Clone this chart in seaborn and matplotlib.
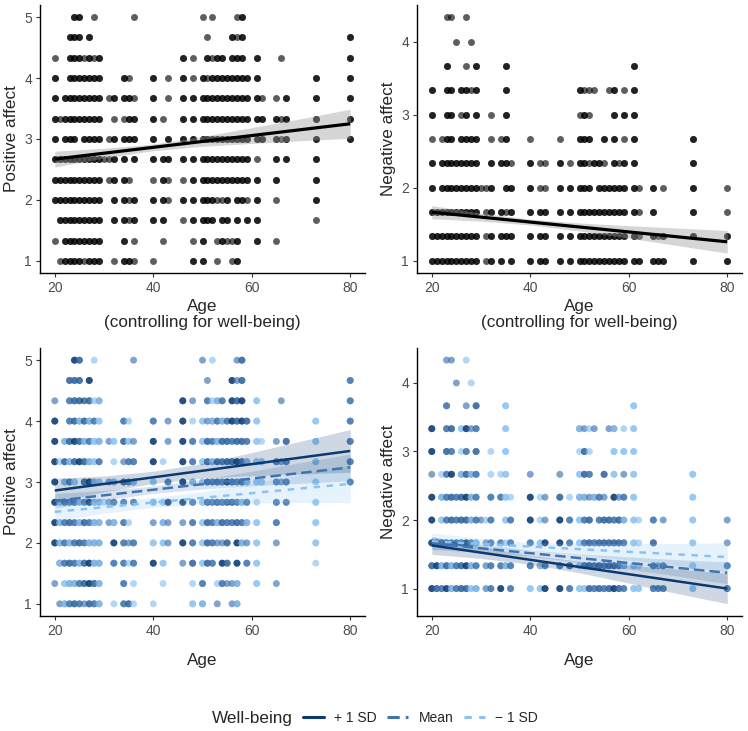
import matplotlib
matplotlib.use("Agg")
import numpy as np
import pandas as pd
import matplotlib.pyplot as plt
import seaborn as sns
from matplotlib.lines import Line2D

sns.set_theme(style="ticks")
plt.rcParams['font.family'] = ['Liberation Sans', 'DejaVu Sans']

# ---------------- data: (age, well-being codes of observations at that spot) ----------------
# h = +1 SD, m = mean, l = -1 SD well-being
pos_levels = [5.0, 4.667, 4.333, 4.0, 3.667, 3.333, 3.0, 2.667, 2.333, 2.0, 1.667, 1.333, 1.0]
pos_500 = [(24,"hh"),(25,"hm"),(28,"l"),(36,"m"),(50,"m"),(52,"l"),(57,"m"),(58,"hm")]
pos_467 = [(23,"hm"),(24,"hm"),(25,"hm"),(27,"hh"),(51,"m"),(56,"hh"),(57,"m"),(58,"hm"),(80,"mm")]
pos_433 = [(20,"m"),(23,"mm"),(24,"hm"),(25,"hm"),(26,"h"),(27,"hm"),(28,"l"),(29,"ml"),(46,"hh"),(48,"m"),
           (51,"mm"),(52,"l"),(53,"ml"),(54,"mm"),(56,"hh"),(57,"hm"),(58,"hh"),(61,"ll"),(66,"m"),(80,"mm")]
pos_400 = [(20,"hh"),(23,"mm"),(24,"hm"),(25,"ml"),(26,"hm"),(27,"ml"),(28,"mm"),(29,"ll"),(34,"mm"),(35,"l"),
           (40,"mm"),(43,"m"),(46,"hh"),(48,"l"),(50,"ll"),(51,"m"),(52,"ml"),(53,"mm"),(54,"ml"),(55,"mm"),
           (56,"hh"),(57,"hm"),(58,"hh"),(59,"hm"),(61,"ll"),(73,"ll"),(80,"mm")]
pos_367 = [(20,"hh"),(22,"ml"),(23,"hm"),(24,"hh"),(25,"hm"),(26,"ml"),(27,"mm"),(28,"ll"),(29,"ml"),(31,"m"),
           (32,"ll"),(34,"hm"),(35,"ll"),(36,"m"),(40,"hh"),(43,"m"),(46,"hh"),(48,"mm"),(50,"ll"),(51,"hm"),
           (52,"mm"),(53,"ml"),(54,"hm"),(55,"hm"),(56,"mm"),(57,"hm"),(58,"hm"),(59,"mm"),(61,"ll"),(62,"l"),
           (65,"m"),(67,"hm"),(73,"ll"),(80,"mm")]
pos_333 = [(20,"hh"),(21,"l"),(22,"hm"),(23,"ml"),(24,"hm"),(25,"hh"),(26,"hm"),(27,"ml"),(28,"ll"),(29,"mm"),
           (32,"l"),(34,"m"),(35,"mm"),(36,"mm"),(40,"hh"),(42,"l"),(46,"hh"),(48,"mm"),(50,"ll"),(51,"hm"),
           (52,"ml"),(53,"hm"),(54,"mm"),(55,"hm"),(56,"hm"),(57,"hh"),(58,"hm"),(59,"ml"),(61,"ll"),(62,"ll"),
           (65,"mm"),(66,"m"),(67,"mm"),(73,"ll"),(80,"mm")]
pos_300 = [(20,"hh"),(22,"ml"),(23,"mm"),(24,"ll"),(26,"hm"),(27,"hh"),(28,"ml"),(29,"ll"),(31,"m"),(32,"ml"),
           (34,"hm"),(35,"mm"),(36,"ml"),(40,"ll"),(43,"mm"),(46,"hh"),(48,"ml"),(50,"ll"),(51,"hm"),(52,"mm"),
           (53,"hm"),(54,"mm"),(55,"hh"),(56,"hm"),(57,"mm"),(58,"hm"),(59,"ml"),(61,"ll"),(62,"ll"),(65,"mm"),
           (66,"m"),(67,"hm"),(73,"ll"),(80,"mm")]
pos_267 = [(20,"hh"),(21,"ml"),(22,"hm"),(23,"mm"),(24,"hm"),(25,"ml"),(26,"mm"),(27,"hh"),(28,"ml"),(29,"ml"),
           (30,"l"),(31,"m"),(32,"mm"),(34,"mm"),(36,"mm"),(40,"ml"),(42,"ll"),(43,"hh"),(46,"hh"),(48,"mm"),
           (50,"ll"),(51,"hm"),(52,"mm"),(53,"hm"),(54,"mm"),(55,"hm"),(56,"hm"),(57,"mm"),(58,"ml"),(59,"mm"),
           (61,"l"),(65,"mm"),(67,"mm"),(73,"ll")]
pos_233 = [(20,"hh"),(21,"ml"),(22,"mm"),(23,"hm"),(24,"mm"),(25,"ml"),(26,"hm"),(27,"mm"),(28,"ml"),(29,"ml"),
           (31,"m"),(32,"ml"),(34,"mm"),(35,"l"),(40,"m"),(42,"ml"),(43,"m"),(46,"m"),(48,"mm"),(50,"ll"),
           (51,"hm"),(52,"mm"),(53,"ml"),(54,"hm"),(55,"mm"),(56,"mm"),(57,"hm"),(58,"mm"),(59,"ml"),(61,"ll"),
           (65,"mm"),(73,"ll")]
pos_200 = [(20,"hh"),(21,"ml"),(22,"mm"),(23,"ml"),(24,"mm"),(25,"hm"),(26,"mm"),(27,"ml"),(28,"ml"),(29,"ml"),
           (32,"hh"),(34,"mm"),(35,"m"),(36,"mm"),(40,"ll"),(42,"ll"),(43,"m"),(46,"hh"),(48,"mm"),(50,"ll"),
           (51,"hm"),(52,"mm"),(53,"m"),(54,"m"),(55,"hm"),(57,"hh"),(58,"ml"),(59,"m"),(61,"ll"),(65,"m"),(73,"ll")]
pos_167 = [(21,"ml"),(22,"mm"),(23,"hm"),(24,"mm"),(25,"ml"),(26,"hm"),(27,"hh"),(28,"ml"),(29,"ml"),(32,"mm"),
           (34,"mm"),(35,"l"),(36,"mm"),(40,"hh"),(42,"ll"),(46,"m"),(48,"hm"),(50,"ll"),(51,"hm"),(52,"mm"),
           (54,"hh"),(55,"hm"),(57,"hh"),(59,"mm"),(61,"ll"),(73,"l")]
pos_133 = [(20,"m"),(22,"ll"),(23,"ml"),(24,"ml"),(25,"mm"),(26,"hm"),(27,"hh"),(28,"hm"),(29,"ml"),(34,"mm"),
           (36,"l"),(42,"l"),(48,"l"),(50,"mm"),(53,"l"),(54,"mm"),(55,"m"),(56,"m"),(57,"ml"),(61,"ll"),(65,"m")]
pos_100 = [(21,"m"),(22,"ml"),(23,"mm"),(24,"hm"),(25,"mm"),(26,"m"),(27,"hm"),(28,"mm"),(29,"ml"),(32,"l"),
           (34,"mm"),(35,"hm"),(36,"l"),(40,"l"),(48,"ll"),(50,"ml"),(53,"m"),(56,"m"),(57,"ml")]

neg_levels = [4.333, 4.0, 3.667, 3.333, 3.0, 2.667, 2.333, 2.0, 1.667, 1.333, 1.0]
neg_433 = [(23,"m"),(24,"m"),(27,"l")]
neg_400 = [(25,"m"),(28,"l")]
neg_367 = [(23,"mm"),(27,"m"),(29,"hm"),(35,"ll"),(61,"ll")]
neg_333 = [(20,"hh"),(23,"mm"),(24,"hm"),(26,"ll"),(27,"hh"),(28,"m"),(29,"mm"),(35,"ll"),(50,"ml"),(51,"m"),
           (52,"l"),(53,"m"),(56,"m"),(57,"ml"),(59,"l"),(61,"ll")]
neg_300 = [(20,"hh"),(23,"hm"),(24,"mm"),(26,"l"),(27,"mm"),(29,"hm"),(32,"l"),(35,"ll"),(50,"l"),(51,"hm"),
           (52,"l"),(57,"ll"),(59,"ll"),(61,"ll")]
neg_267 = [(20,"m"),(22,"l"),(23,"mm"),(24,"hh"),(26,"ml"),(27,"hm"),(28,"ml"),(29,"mm"),(32,"l"),(34,"l"),
           (35,"ll"),(40,"m"),(46,"m"),(50,"ll"),(51,"hm"),(52,"mm"),(55,"hm"),(57,"ll"),(59,"m"),(61,"ll"),(73,"ll")]
neg_233 = [(20,"hh"),(22,"ml"),(23,"mm"),(24,"hm"),(25,"mm"),(26,"hm"),(27,"hh"),(28,"ml"),(29,"mm"),(32,"mm"),
           (34,"mm"),(35,"ll"),(36,"l"),(40,"hh"),(42,"l"),(43,"m"),(46,"hm"),(48,"l"),(50,"ml"),(51,"ml"),
           (52,"m"),(53,"ml"),(54,"mm"),(55,"m"),(57,"hh"),(58,"m"),(59,"mm"),(61,"ll"),(73,"ll")]
neg_200 = [(20,"hh"),(22,"ll"),(23,"mm"),(24,"hm"),(25,"mm"),(26,"hm"),(27,"hm"),(28,"ml"),(29,"mm"),(30,"m"),
           (31,"l"),(32,"mm"),(35,"ll"),(36,"mm"),(40,"hh"),(42,"l"),(43,"m"),(46,"hh"),(48,"mm"),(50,"ll"),
           (51,"mm"),(52,"hm"),(54,"mm"),(55,"hm"),(56,"hm"),(57,"mm"),(58,"hm"),(59,"ml"),(61,"ll"),(62,"l"),
           (65,"mm"),(67,"m"),(73,"ll"),(80,"m")]
neg_167 = [(20,"hh"),(21,"hm"),(22,"mm"),(23,"hm"),(24,"mm"),(25,"hm"),(26,"hm"),(27,"hh"),(28,"mm"),(29,"ml"),
           (31,"m"),(32,"mm"),(34,"mm"),(35,"l"),(36,"mm"),(40,"mm"),(42,"ll"),(43,"hh"),(46,"hh"),(48,"mm"),
           (50,"ll"),(51,"mm"),(52,"hm"),(53,"mm"),(54,"hm"),(55,"hm"),(56,"hm"),(57,"hm"),(58,"hm"),(59,"mm"),
           (61,"ll"),(62,"l"),(65,"hm"),(73,"ll"),(80,"m")]
neg_133 = [(20,"hm"),(21,"hh"),(22,"ml"),(23,"hm"),(24,"ml"),(25,"mm"),(26,"hm"),(27,"hh"),(28,"ml"),(29,"mm"),
           (31,"m"),(32,"mm"),(34,"mm"),(35,"ml"),(36,"mm"),(40,"mm"),(42,"ml"),(43,"mm"),(46,"mm"),(48,"hm"),
           (50,"ll"),(51,"mm"),(52,"hm"),(53,"mm"),(54,"hm"),(55,"mm"),(56,"hm"),(57,"hm"),(58,"mm"),(59,"ml"),
           (61,"ll"),(62,"l"),(65,"mm"),(66,"m"),(67,"mm"),(73,"ll"),(80,"mm")]
neg_100 = [(20,"hh"),(21,"hm"),(22,"mm"),(23,"hh"),(24,"ml"),(25,"mm"),(26,"hm"),(27,"hm"),(28,"ll"),(29,"ml"),
           (31,"m"),(32,"mm"),(34,"hh"),(36,"mm"),(40,"ll"),(42,"ll"),(43,"hh"),(46,"hh"),(48,"mm"),(50,"ll"),
           (51,"ll"),(52,"hm"),(53,"mm"),(54,"hm"),(55,"mm"),(56,"hm"),(57,"hh"),(58,"hm"),(59,"mm"),(61,"ll"),
           (62,"ll"),(65,"mm"),(66,"mm"),(67,"mm"),(73,"ll"),(80,"mm")]

# ---------------- fitted lines (values at age 20 and 80) and CI half-widths ----------------
fit_ages = [20, 80]
band_ages = [20, 30, 40, 50, 60, 70, 80]
pos_all_fit = [2.67, 3.25]
pos_all_hw = [0.13, 0.08, 0.055, 0.08, 0.13, 0.18, 0.24]
neg_all_fit = [1.665, 1.26]
neg_all_hw = [0.09, 0.055, 0.04, 0.055, 0.085, 0.12, 0.155]
pos_hi_fit, pos_mean_fit, pos_lo_fit = [2.86, 3.51], [2.69, 3.24], [2.51, 2.97]
pos_hi_hw = [0.20, 0.13, 0.10, 0.12, 0.19, 0.27, 0.35]
pos_mean_hw = [0.12, 0.08, 0.06, 0.08, 0.12, 0.17, 0.22]
pos_lo_hw = [0.14, 0.10, 0.08, 0.10, 0.16, 0.23, 0.31]
neg_hi_fit, neg_mean_fit, neg_lo_fit = [1.63, 1.00], [1.66, 1.23], [1.69, 1.46]
neg_hi_hw = [0.13, 0.085, 0.065, 0.085, 0.13, 0.18, 0.22]
neg_mean_hw = [0.09, 0.06, 0.045, 0.06, 0.09, 0.12, 0.16]
neg_lo_hw = [0.12, 0.08, 0.06, 0.08, 0.12, 0.16, 0.21]

wb_labels = ["+ 1 SD", "Mean", "\u2212 1 SD"]
wb_colors = {"h": "#0A3A71", "m": "#3F74B0", "l": "#8AC3F2"}


def build(levels, rows):
    recs = []
    for lv, row in zip(levels, rows):
        for age, codes in row:
            for c in codes:
                recs.append((age, lv, c))
    return pd.DataFrame(recs, columns=["age", "affect", "wb"])


pos_df = build(pos_levels, [pos_500, pos_467, pos_433, pos_400, pos_367, pos_333, pos_300,
                            pos_267, pos_233, pos_200, pos_167, pos_133, pos_100])
neg_df = build(neg_levels, [neg_433, neg_400, neg_367, neg_333, neg_300, neg_267, neg_233,
                            neg_200, neg_167, neg_133, neg_100])

W, H = 748, 731
fig = plt.figure(figsize=(W / 100, H / 100), dpi=100)


def mk(l, t, r, b):
    return fig.add_axes([l / W, 1 - b / H, (r - l) / W, (b - t) / H])


ax_tl = mk(40, 5, 365, 273)
ax_tr = mk(417, 5, 742, 273)
ax_bl = mk(40, 348, 365, 616)
ax_br = mk(417, 348, 742, 616)

PT = 25


def band(ax, fit, hw, color, alpha):
    center = np.interp(band_ages, fit_ages, fit)
    hw = np.array(hw)
    ax.fill_between(band_ages, center - hw, center + hw, color=color, alpha=alpha, linewidth=0, zorder=3)


def line(ax, fit, color, lw, dashes=None):
    ln, = ax.plot(fit_ages, fit, color=color, lw=lw, zorder=4, solid_capstyle="butt", dash_capstyle="butt")
    if dashes is not None:
        ln.set_dashes(dashes)


# top panels
for ax, df, fit, hw in [(ax_tl, pos_df, pos_all_fit, pos_all_hw), (ax_tr, neg_df, neg_all_fit, neg_all_hw)]:
    sns.scatterplot(data=df, x="age", y="affect", color="black", alpha=0.63, s=PT, linewidth=0, ax=ax, zorder=2)
    band(ax, fit, hw, "#999999", 0.4)
    line(ax, fit, "black", 2.3)

# bottom panels
specs_pos = [(pos_lo_fit, pos_lo_hw, "l"), (pos_mean_fit, pos_mean_hw, "m"), (pos_hi_fit, pos_hi_hw, "h")]
specs_neg = [(neg_lo_fit, neg_lo_hw, "l"), (neg_mean_fit, neg_mean_hw, "m"), (neg_hi_fit, neg_hi_hw, "h")]
dash_map = {"h": None, "m": (4.2, 2.0), "l": (2.6, 2.6)}
for ax, df, specs in [(ax_bl, pos_df, specs_pos), (ax_br, neg_df, specs_neg)]:
    sns.scatterplot(data=df, x="age", y="affect", hue="wb", palette=wb_colors, alpha=0.66, s=PT,
                    linewidth=0, ax=ax, legend=False, zorder=2)
    for fit, hw, k in specs:
        band(ax, fit, hw, wb_colors[k], 0.2)
    for fit, hw, k in specs:
        line(ax, fit, wb_colors[k], 1.8, dash_map[k])

# axes styling
for ax in [ax_tl, ax_tr, ax_bl, ax_br]:
    ax.set_xlim(17, 83)
    ax.set_xticks([20, 40, 60, 80])
    for s in ["top", "right"]:
        ax.spines[s].set_visible(False)
    for s in ["left", "bottom"]:
        ax.spines[s].set_linewidth(1.0)
        ax.spines[s].set_color("black")
    ax.tick_params(axis="both", length=3.2, width=0.8, color="#333333", labelsize=10,
                   labelcolor="#4D4D4D", pad=2.5)
    ax.grid(False)

ax_tl.set_ylim(0.8, 5.2); ax_tl.set_yticks([1, 2, 3, 4, 5])
ax_bl.set_ylim(0.8, 5.2); ax_bl.set_yticks([1, 2, 3, 4, 5])
ax_tr.set_ylim(0.833, 4.5); ax_tr.set_yticks([1, 2, 3, 4])
ax_br.set_ylim(0.6, 4.51); ax_br.set_yticks([1, 2, 3, 4])

for ax in [ax_tl, ax_tr]:
    ax.set_xlabel("Age\n(controlling for well-being)", fontsize=12.3, labelpad=3, linespacing=1.1)
for ax in [ax_bl, ax_br]:
    ax.set_xlabel("Age", fontsize=12.3, labelpad=11)
for ax in [ax_tl, ax_bl]:
    ax.set_ylabel("Positive affect", fontsize=12.3, labelpad=4)
for ax in [ax_tr, ax_br]:
    ax.set_ylabel("Negative affect", fontsize=12.3, labelpad=4)

# legend
fig.text(212 / W, 1 - 718 / H, "Well-being", fontsize=12.3, va="center", ha="left")
handles = [Line2D([], [], color=wb_colors["h"], lw=2.2),
           Line2D([], [], color=wb_colors["m"], lw=2.2, dashes=(4.0, 2.0)),
           Line2D([], [], color=wb_colors["l"], lw=2.2, dashes=(2.4, 2.4))]
fig.legend(handles, wb_labels, loc="center left", bbox_to_anchor=(303 / W, 1 - 718 / H), ncol=3,
           frameon=False, fontsize=10, handlelength=1.5, handletextpad=0.75, columnspacing=0.75,
           borderpad=0, borderaxespad=0)

fig.savefig("out.png", dpi=100)
